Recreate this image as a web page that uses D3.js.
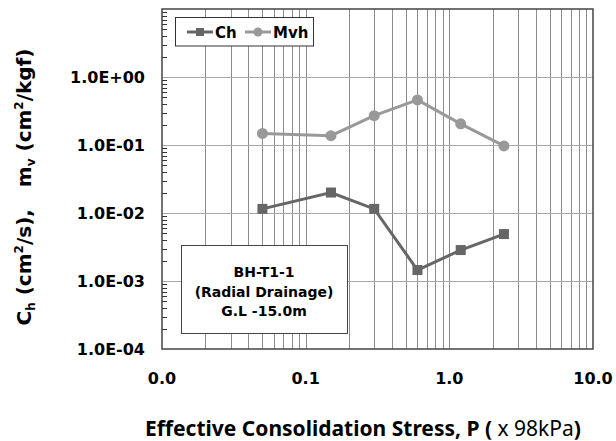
<html>
<head>
    <script src="https://d3js.org/d3.v7.min.js"></script>
    <style>
        body { margin: 0; background: #fff; }
        text { font-family: "DejaVu Sans", Verdana, sans-serif; }
    </style>
</head>
<body>
    <svg id="chart" width="616" height="441"></svg>
    <script>
        // consolidation stress P (x 98kPa)
        const pressure = [0.05, 0.15, 0.3, 0.6, 1.2, 2.4];
        // coefficient of consolidation, radial (cm2/s)
        const chValues = [0.0115, 0.020, 0.0115, 0.00145, 0.00285, 0.0049];
        // coefficient of volume compressibility (cm2/kgf)
        const mvhValues = [0.148, 0.137, 0.27, 0.46, 0.205, 0.097];

        const xTicks = [0.01, 0.1, 1, 10];
        const yTicks = [1e-4, 1e-3, 1e-2, 1e-1, 1e0, 1e1];
        const infoLines = ["BH-T1-1", "(Radial Drainage)", "G.L -15.0m"];

        const svg = d3.select("#chart");
        const pLeft = 162, pRight = 593, pTop = 9, pBottom = 349;

        const x = d3.scaleLog().domain([0.01, 10]).range([pLeft, pRight]);
        const y = d3.scaleLog().domain([1e-4, 10]).range([pBottom, pTop]);

        const gridColor = "#8c8c8c";

        // vertical grid: every 1..9 of each decade
        const xMinor = [];
        for (let d = 0.01; d < 10; d *= 10) {
            for (let k = 1; k <= 9; k++) xMinor.push(d * k);
        }
        svg.append("g").selectAll("line")
            .data(xMinor.filter(v => v > 0.0101))
            .join("line")
            .attr("x1", d => Math.round(x(d)) + 0.5).attr("x2", d => Math.round(x(d)) + 0.5)
            .attr("y1", pTop).attr("y2", pBottom)
            .attr("stroke", gridColor).attr("stroke-width", 1);

        // horizontal grid at decades
        svg.append("g").selectAll("line")
            .data(yTicks.slice(1, -1))
            .join("line")
            .attr("x1", pLeft).attr("x2", pRight)
            .attr("y1", d => Math.round(y(d)) + 0.5).attr("y2", d => Math.round(y(d)) + 0.5)
            .attr("stroke", "#a8a8a8").attr("stroke-width", 1);

        // y minor ticks inside
        const yMinor = [];
        for (let d = 1e-4; d < 10; d *= 10) {
            for (let k = 2; k <= 9; k++) yMinor.push(d * k);
        }
        svg.append("g").selectAll("line")
            .data(yMinor)
            .join("line")
            .attr("x1", pLeft).attr("x2", pLeft + 5)
            .attr("y1", d => Math.round(y(d)) + 0.5).attr("y2", d => Math.round(y(d)) + 0.5)
            .attr("stroke", "#333").attr("stroke-width", 1);

        // plot frame
        svg.append("rect")
            .attr("x", pLeft).attr("y", pTop)
            .attr("width", pRight - pLeft).attr("height", pBottom - pTop)
            .attr("fill", "none").attr("stroke", "#444").attr("stroke-width", 1.5);

        // tick labels
        const fmtY = v => {
            const e = Math.round(Math.log10(v));
            return "1.0E" + (e < 0 ? "-" : "+") + String(Math.abs(e)).padStart(2, "0");
        };
        svg.append("g").selectAll("text")
            .data(yTicks.slice(0, -1))
            .join("text")
            .attr("x", pLeft - 17).attr("y", d => y(d))
            .attr("dy", "0.36em")
            .attr("text-anchor", "end")
            .attr("font-size", 16).attr("font-weight", "bold")
            .text(fmtY);

        svg.append("g").selectAll("text")
            .data(xTicks)
            .join("text")
            .attr("x", d => x(d)).attr("y", 384)
            .attr("text-anchor", "middle")
            .attr("font-size", 16).attr("font-weight", "bold")
            .text(d => d3.format(".1f")(d));

        // series
        const line = d3.line().x(d => x(d[0])).y(d => y(d[1]));
        const mvh = pressure.map((p, i) => [p, mvhValues[i]]);
        const ch = pressure.map((p, i) => [p, chValues[i]]);

        svg.append("path").datum(mvh).attr("d", line)
            .attr("fill", "none").attr("stroke", "#999").attr("stroke-width", 3);
        svg.append("g").selectAll("circle").data(mvh).join("circle")
            .attr("cx", d => x(d[0])).attr("cy", d => y(d[1])).attr("r", 5.5)
            .attr("fill", "#999");

        svg.append("path").datum(ch).attr("d", line)
            .attr("fill", "none").attr("stroke", "#666").attr("stroke-width", 3);
        svg.append("g").selectAll("rect").data(ch).join("rect")
            .attr("x", d => x(d[0]) - 5).attr("y", d => y(d[1]) - 5)
            .attr("width", 10).attr("height", 10)
            .attr("fill", "#666");

        // legend
        const lg = svg.append("g");
        lg.append("rect").attr("x", 175.5).attr("y", 17.5).attr("width", 138).attr("height", 28.5)
            .attr("fill", "#fff").attr("stroke", "#333").attr("stroke-width", 1);
        lg.append("line").attr("x1", 187).attr("x2", 213).attr("y1", 32).attr("y2", 32)
            .attr("stroke", "#666").attr("stroke-width", 3);
        lg.append("rect").attr("x", 196).attr("y", 28).attr("width", 8).attr("height", 8).attr("fill", "#666");
        lg.append("text").attr("x", 215).attr("y", 37.5).attr("font-size", 15).attr("font-weight", "bold").text("Ch");
        lg.append("line").attr("x1", 245).attr("x2", 271).attr("y1", 32).attr("y2", 32)
            .attr("stroke", "#999").attr("stroke-width", 3);
        lg.append("circle").attr("cx", 258).attr("cy", 32).attr("r", 4.5).attr("fill", "#999");
        lg.append("text").attr("x", 273).attr("y", 37.5).attr("font-size", 15).attr("font-weight", "bold").text("Mvh");

        // info box
        const ib = svg.append("g");
        ib.append("rect").attr("x", 181.5).attr("y", 245.5).attr("width", 166).attr("height", 88)
            .attr("fill", "#fff").attr("stroke", "#444").attr("stroke-width", 1);
        ib.selectAll("text").data(infoLines).join("text")
            .attr("x", 264).attr("y", (d, i) => 277 + i * 19.5)
            .attr("text-anchor", "middle")
            .attr("font-size", 14).attr("font-weight", "bold")
            .text(d => d);

        // axis titles
        const yt = svg.append("text")
            .attr("transform", "translate(31,187) rotate(-90)")
            .attr("text-anchor", "middle")
            .attr("font-size", 20).attr("font-weight", "bold");
        yt.append("tspan").text("C");
        yt.append("tspan").attr("font-size", 12).attr("dy", 4).text("h");
        yt.append("tspan").attr("dy", -4).text(" (cm");
        yt.append("tspan").attr("font-size", 12).attr("dy", -8).text("2");
        yt.append("tspan").attr("dy", 8).text("/s),");
        yt.append("tspan").attr("dx", 22).text("m");
        yt.append("tspan").attr("font-size", 12).attr("dy", 4).text("v");
        yt.append("tspan").attr("dy", -4).text(" (cm");
        yt.append("tspan").attr("font-size", 12).attr("dy", -8).text("2");
        yt.append("tspan").attr("dy", 8).text("/kgf)");

        const xt = svg.append("text")
            .attr("x", 363).attr("y", 436)
            .attr("text-anchor", "middle")
            .attr("font-size", 21)
            .style("font-family", "'Noto Sans', sans-serif");
        xt.append("tspan").attr("font-weight", "bold").text("Effective Consolidation Stress, P (");
        xt.append("tspan").text(" x 98kPa");
        xt.append("tspan").attr("font-weight", "bold").text(")");
    </script>
</body>
</html>
